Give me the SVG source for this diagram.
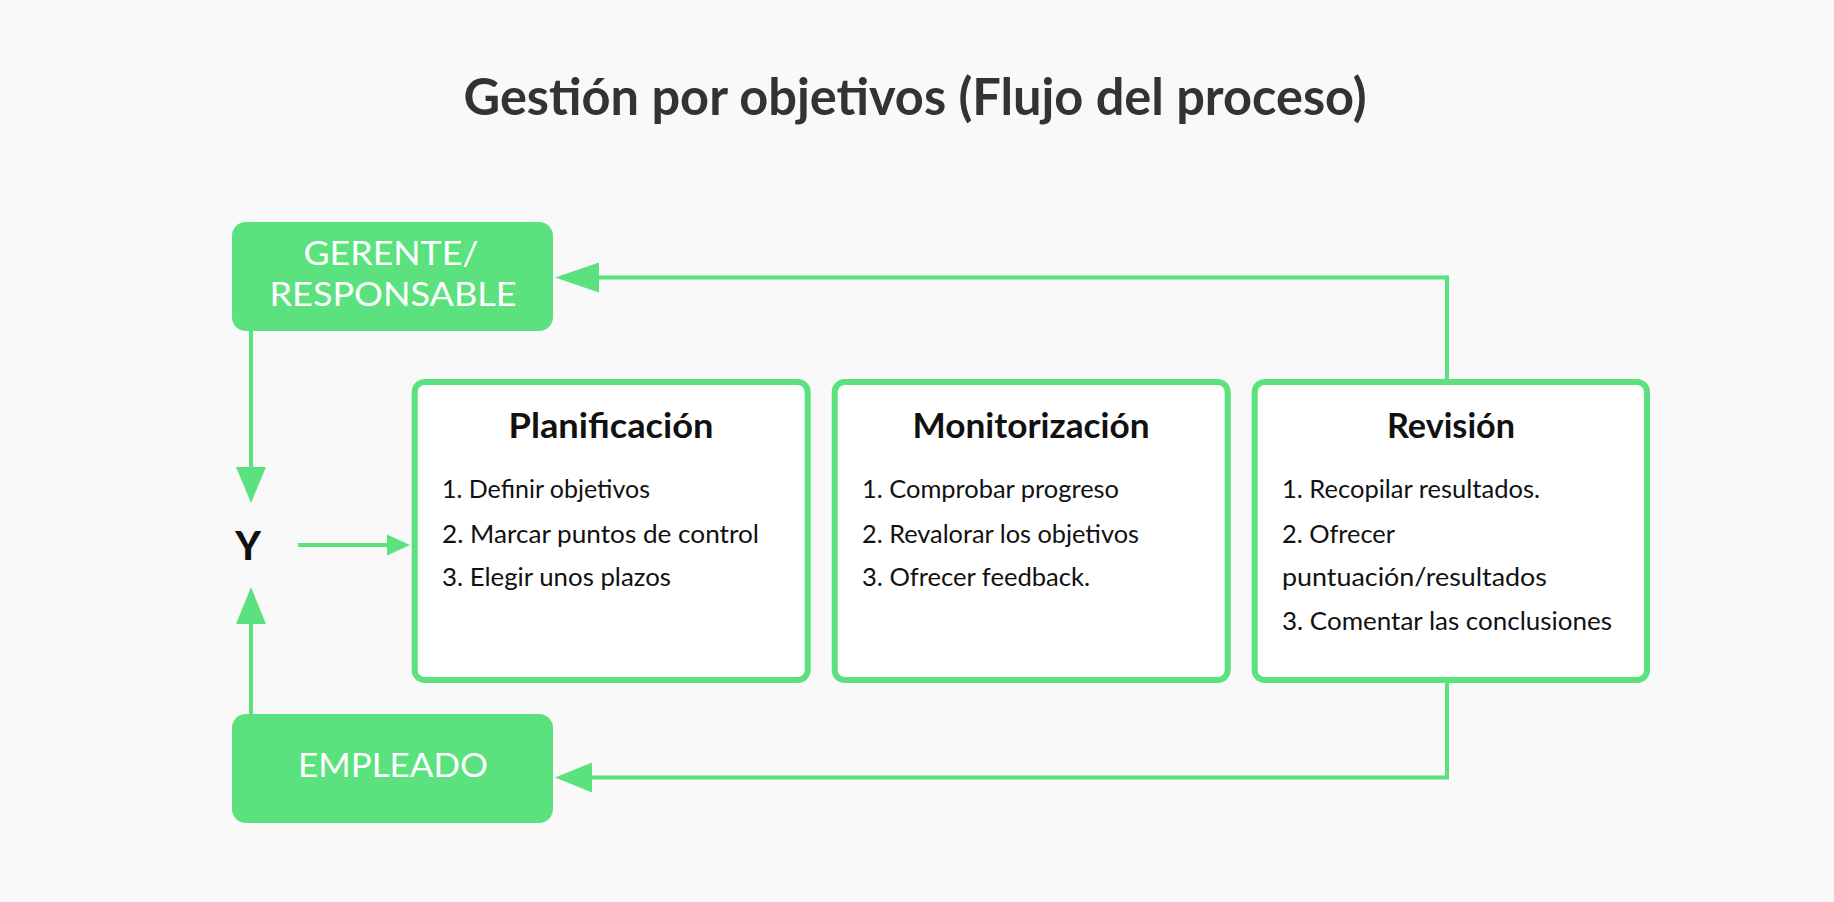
<svg xmlns="http://www.w3.org/2000/svg" width="1834" height="902" viewBox="0 0 1834 902">
<style>
.bg{fill:#F9F9F9}
.role{fill:#5BE27E}
.card{fill:#FFFFFF;stroke:#5BE27E;stroke-width:6}
.line{fill:none;stroke:#5BE27E;stroke-width:4}
.ah{fill:#5BE27E}
text{font-family:"Lato","Liberation Sans",sans-serif}
.title{font-size:51px;font-weight:700;fill:#333333}
.rt{font-size:32px;font-weight:400;fill:#FFFFFF}
.ct{font-size:35px;font-weight:700;fill:#111111}
.it{font-size:25px;font-weight:400;fill:#111111}
.y{font-size:39px;font-weight:900;fill:#111111}
</style>
<rect class="bg" x="0" y="0" width="1834" height="902"/>
<text class="title" x="915" y="115" text-anchor="middle" textLength="903" lengthAdjust="spacingAndGlyphs">Gestión por objetivos (Flujo del proceso)</text>

<g id="connectors">
  <path class="line" d="M1447,380 V277.5 H596"/>
  <polygon class="ah" points="555,277.5 599,262.5 599,292.5"/>
  <path class="line" d="M1447,683 V777.5 H589"/>
  <polygon class="ah" points="555,777.5 592,762.5 592,792.5"/>
  <path class="line" d="M251,331 V470"/>
  <polygon class="ah" points="251,503 236,467 266,467"/>
  <path class="line" d="M251,714 V621"/>
  <polygon class="ah" points="251,587 236,624 266,624"/>
  <path class="line" d="M298,545 H390"/>
  <polygon class="ah" points="410,545 387,534.5 387,555.5"/>
</g>

<g id="gerente">
  <rect class="role" x="232" y="222" width="321" height="109" rx="14"/>
  <text class="rt" x="391" y="265" text-anchor="middle" textLength="175" lengthAdjust="spacingAndGlyphs">GERENTE/</text>
  <text class="rt" x="393" y="306" text-anchor="middle" textLength="247" lengthAdjust="spacingAndGlyphs">RESPONSABLE</text>
</g>

<g id="empleado">
  <rect class="role" x="232" y="714" width="321" height="109" rx="14"/>
  <text class="rt" x="393" y="777" text-anchor="middle" textLength="190" lengthAdjust="spacingAndGlyphs">EMPLEADO</text>
</g>

<g id="y">
  <text class="y" x="248" y="560" text-anchor="middle">Y</text>
</g>

<g id="planificacion">
  <rect class="card" x="414.7" y="382" width="393" height="298" rx="10"/>
  <text class="ct" x="611" y="438" text-anchor="middle" textLength="205" lengthAdjust="spacingAndGlyphs">Planificación</text>
  <text class="it" x="442" y="498" textLength="208" lengthAdjust="spacingAndGlyphs">1. Definir objetivos</text>
  <text class="it" x="442" y="543" textLength="317" lengthAdjust="spacingAndGlyphs">2. Marcar puntos de control</text>
  <text class="it" x="442" y="586" textLength="229" lengthAdjust="spacingAndGlyphs">3. Elegir unos plazos</text>
</g>

<g id="monitorizacion">
  <rect class="card" x="834.7" y="382" width="393" height="298" rx="10"/>
  <text class="ct" x="1031" y="438" text-anchor="middle" textLength="237" lengthAdjust="spacingAndGlyphs">Monitorización</text>
  <text class="it" x="862" y="498" textLength="257" lengthAdjust="spacingAndGlyphs">1. Comprobar progreso</text>
  <text class="it" x="862" y="543" textLength="277" lengthAdjust="spacingAndGlyphs">2. Revalorar los objetivos</text>
  <text class="it" x="862" y="586" textLength="228" lengthAdjust="spacingAndGlyphs">3. Ofrecer feedback.</text>
</g>

<g id="revision">
  <rect class="card" x="1254.7" y="382" width="392.3" height="298" rx="10"/>
  <text class="ct" x="1451" y="438" text-anchor="middle" textLength="128" lengthAdjust="spacingAndGlyphs">Revisión</text>
  <text class="it" x="1282" y="498" textLength="258" lengthAdjust="spacingAndGlyphs">1. Recopilar resultados.</text>
  <text class="it" x="1282" y="543" textLength="113" lengthAdjust="spacingAndGlyphs">2. Ofrecer</text>
  <text class="it" x="1282" y="586" textLength="265" lengthAdjust="spacingAndGlyphs">puntuación/resultados</text>
  <text class="it" x="1282" y="630" textLength="330" lengthAdjust="spacingAndGlyphs">3. Comentar las conclusiones</text>
</g>
</svg>
